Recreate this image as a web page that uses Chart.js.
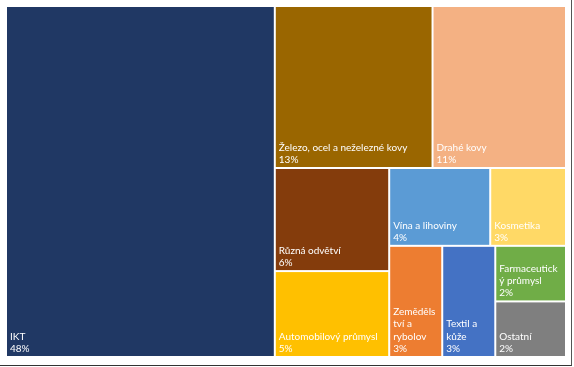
<!DOCTYPE html>
<html lang="cs">
<head>
<meta charset="utf-8">
<script src="https://cdn.jsdelivr.net/npm/chart.js@4"></script>
<style>
  html, body { margin: 0; padding: 0; background: #fff; }
  #wrap { position: relative; width: 574px; height: 367px; }
  #frame {
    position: absolute; left: 0; top: 0; width: 571px; height: 365px;
    border-right: 1px solid #555; border-bottom: 1px solid #333;
    pointer-events: none;
  }
</style>
</head>
<body>
<div id="wrap">
  <canvas id="chart-treemap" width="574" height="367"></canvas>
  <div id="frame"></div>
</div>
<script>
// share of exports by sector (%)
const categories = [
  'IKT', 'Železo, ocel a neželezné kovy', 'Drahé kovy', 'Různá odvětví',
  'Automobilový průmysl', 'Vína a lihoviny', 'Kosmetika', 'Zemědělství a rybolov',
  'Textil a kůže', 'Farmaceutický průmysl', 'Ostatní'
];
const values = [48, 13, 11, 6, 5, 4, 3, 3, 3, 2, 2];
const cellColors = [
  '#203864', '#9a6600', '#f4b183', '#843c0c', '#ffc000', '#5b9bd5',
  '#ffd966', '#ed7d31', '#4472c4', '#70ad47', '#7f7f7f'
];

// layout space used by the squarify pass (Excel lays out on a slightly wider box)
const LAYOUT_W = 1.69;
const LAYOUT_H = 1;

/**
 * Squarified treemap. Returns rects {x, y, w, h} in layout units, same order as vals.
 */
function squarify(vals, x, y, w, h) {
  const total = vals.reduce((a, b) => a + b, 0);
  const areas = vals.map((v) => (v / total) * w * h);
  const rects = [];
  const worst = (row, side) => {
    const s = row.reduce((a, b) => a + b, 0);
    const mx = Math.max(...row), mn = Math.min(...row);
    return Math.max((side * side * mx) / (s * s), (s * s) / (side * side * mn));
  };
  let i = 0;
  while (i < areas.length) {
    const side = Math.min(w, h);
    const row = [areas[i]];
    let j = i + 1;
    while (j < areas.length && worst(row.concat(areas[j]), side) <= worst(row, side)) {
      row.push(areas[j]);
      j++;
    }
    const s = row.reduce((a, b) => a + b, 0);
    if (w >= h) {
      // column on the left
      const t = s / h;
      let yy = y;
      row.forEach((a) => { rects.push({ x, y: yy, w: t, h: a / t }); yy += a / t; });
      x += t; w -= t;
    } else {
      // row along the top
      const t = s / w;
      let xx = x;
      row.forEach((a) => { rects.push({ x: xx, y, w: a / t, h: t }); xx += a / t; });
      y += t; h -= t;
    }
    i = j;
  }
  return rects;
}

// split text into lines that fit maxW, breaking inside words when needed
function wrapText(ctx, text, maxW) {
  const lines = [];
  let cur = '';
  text.split(' ').forEach((word) => {
    const tryLine = cur ? cur + ' ' + word : word;
    if (ctx.measureText(tryLine).width <= maxW) { cur = tryLine; return; }
    if (cur) { lines.push(cur); cur = ''; }
    let piece = '';
    for (const ch of word) {
      if (ctx.measureText(piece + ch).width > maxW && piece) { lines.push(piece); piece = ch; }
      else piece += ch;
    }
    cur = piece;
  });
  if (cur) lines.push(cur);
  return lines;
}

const treemapPlugin = {
  id: 'treemapCells',
  afterDatasetsDraw(chart) {
    const { ctx, scales: { x: xs, y: ys } } = chart;
    const ds = chart.data.datasets[0];
    const vals = ds.tree;
    const total = vals.reduce((a, b) => a + b, 0);
    const rects = squarify(vals, 0, 0, LAYOUT_W, LAYOUT_H);
    const gap = 1;
    ctx.save();
    rects.forEach((r, k) => {
      const x0 = xs.getPixelForValue(r.x) + gap;
      const x1 = xs.getPixelForValue(r.x + r.w) - gap;
      const y0 = ys.getPixelForValue(r.y) + gap;
      const y1 = ys.getPixelForValue(r.y + r.h) - gap;
      ctx.fillStyle = ds.backgroundColor[k];
      ctx.fillRect(x0, y0, x1 - x0, y1 - y0);

      // label: name (wrapped) + percent, anchored bottom-left
      ctx.font = ds.labelFont;
      ctx.fillStyle = '#ffffff';
      ctx.textBaseline = 'alphabetic';
      ctx.textAlign = 'left';
      const pad = 3;
      const lh = 12.3;
      const lines = wrapText(ctx, chart.data.labels[k], x1 - x0 - 2 * pad);
      lines.push(Math.round((vals[k] / total) * 100) + '%');
      let by = y1 - 4 - (lines.length - 1) * lh;
      lines.forEach((ln) => { ctx.fillText(ln, x0 + pad, by); by += lh; });
    });
    ctx.restore();
  },
};

new Chart(document.getElementById('chart-treemap'), {
  type: 'scatter',
  data: {
    labels: categories,
    datasets: [{
      data: [],
      tree: values,
      backgroundColor: cellColors,
      labelFont: '10px Lato',
    }],
  },
  options: {
    responsive: false,
    animation: false,
    layout: { padding: { left: 6, right: 8, top: 6, bottom: 10 } },
    plugins: { legend: { display: false }, tooltip: { enabled: false } },
    scales: {
      x: { type: 'linear', min: 0, max: LAYOUT_W, display: false },
      y: { type: 'linear', min: 0, max: LAYOUT_H, reverse: true, display: false },
    },
  },
  plugins: [treemapPlugin],
});
</script>
</body>
</html>
